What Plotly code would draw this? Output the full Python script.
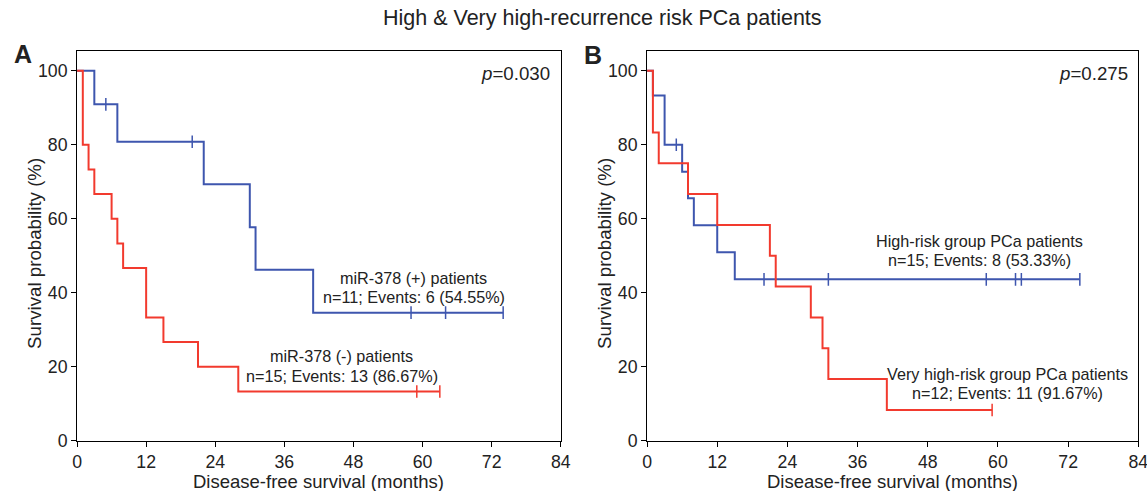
import plotly.graph_objects as go

# ---------------- data ----------------
ticks_x = [0, 12, 24, 36, 48, 60, 72, 84]
ticks_y = [0, 20, 40, 60, 80, 100]

# Panel A: miR-378 (+)
a_pos_t = [0, 3, 7, 22, 30, 31, 41]
a_pos_s = [100, 90.9, 80.8, 69.3, 57.7, 46.2, 34.6]
a_pos_cens = [5, 20, 58, 64, 74]
# Panel A: miR-378 (-)
a_neg_t = [0, 1, 2, 3, 6, 7, 8, 12, 15, 21, 28]
a_neg_s = [100, 80, 73.3, 66.7, 60, 53.3, 46.7, 33.3, 26.7, 20, 13.3]
a_neg_cens = [59, 63]
# Panel B: high-risk
b_high_t = [0, 1, 3, 6, 7, 8, 12, 15]
b_high_s = [100, 93.3, 80, 72.7, 65.5, 58.2, 50.9, 43.6]
b_high_cens = [5, 20, 31, 58, 63, 64, 74]
# Panel B: very high-risk
b_vh_t = [0, 1, 2, 7, 12, 21, 22, 28, 30, 31, 41]
b_vh_s = [100, 83.3, 75, 66.7, 58.3, 50, 41.7, 33.3, 25, 16.7, 8.3]
b_vh_cens = [59]

BLUE = "#3E56AE"
RED = "#F23A2E"
FONT = "Liberation Sans, Arial, sans-serif"

def surv_at(t_list, s_list, t):
    v = s_list[0]
    for tt, ss in zip(t_list, s_list):
        if tt <= t:
            v = ss
    return v

fig = go.Figure()

def add_curve(t, s, cens, color, xa, ya):
    end = max(cens) if cens else t[-1]
    xs = list(t) + [end]
    ys = list(s) + [s[-1]]
    fig.add_trace(go.Scatter(x=xs, y=ys, mode="lines", line=dict(color=color, width=2, shape="hv"),
                             xaxis=xa, yaxis=ya, showlegend=False, hoverinfo="skip"))
    fig.add_trace(go.Scatter(x=cens, y=[surv_at(t, s, c) for c in cens], mode="markers",
                             marker=dict(symbol="line-ns", size=9, line=dict(color=color, width=1.5)),
                             xaxis=xa, yaxis=ya, showlegend=False, hoverinfo="skip"))

add_curve(a_pos_t, a_pos_s, a_pos_cens, BLUE, "x", "y")
add_curve(a_neg_t, a_neg_s, a_neg_cens, RED, "x", "y")
add_curve(b_high_t, b_high_s, b_high_cens, BLUE, "x2", "y2")
add_curve(b_vh_t, b_vh_s, b_vh_cens, RED, "x2", "y2")

# target picture coordinates (reference pixels)
RW, RH = 1147, 491
def px(x): return x / RW
def py(y): return 1 - y / RH

ydom = [py(440.7), py(50.7)]
TICK = 17.7
ax_common = dict(range=[0, 84], tickvals=ticks_x, ticks="outside", ticklen=5, tickwidth=1,
                 tickcolor="black", showline=True, linecolor="black", linewidth=1, mirror=True,
                 showgrid=False, zeroline=False, tickfont=dict(family=FONT, size=TICK, color="#222"))
ay_common = dict(range=[0, 105.4], tickvals=ticks_y, ticks="outside", ticklen=5, tickwidth=1,
                 tickcolor="black", showline=True, linecolor="black", linewidth=1, mirror=True,
                 showgrid=False, zeroline=False, tickfont=dict(family=FONT, size=TICK, color="#222"))

fig.update_layout(
    width=1158, height=501, margin=dict(l=0, r=0, t=0, b=0),
    paper_bgcolor="white", plot_bgcolor="white",
    xaxis=dict(domain=[px(72.3), px(557.7)], anchor="y", **ax_common),
    yaxis=dict(domain=ydom, anchor="x", **ay_common),
    xaxis2=dict(domain=[px(644.3), px(1137.3)], anchor="y2", **ax_common),
    yaxis2=dict(domain=ydom, anchor="x2", **ay_common),
    font=dict(family=FONT, color="#222"),
)

def ann(text, x, y, size=16.2, xanchor="center", bold=False, textangle=0):
    fig.add_annotation(text=("<b>%s</b>" % text) if bold else text, x=px(x), y=py(y),
                       xref="paper", yref="paper", showarrow=False, xanchor=xanchor,
                       yanchor="middle", textangle=textangle,
                       font=dict(family=FONT, size=size, color="#222"))

ann("High &amp; Very high-recurrence risk PCa patients", 600, 18, size=21.5)
ann("A", 18, 54, size=25, bold=True)
ann("B", 590, 55, size=25, bold=True)
ann("<i>p</i>=0.030", 549, 74, size=18.7, xanchor="right")
ann("<i>p</i>=0.275", 1129, 74, size=18.7, xanchor="right")
ann("Disease-free survival (months)", 315, 481.5, size=18.5)
ann("Disease-free survival (months)", 891, 481.5, size=18.5)
ann("Survival probability (%)", 30, 253, size=18.7, textangle=-90)
ann("Survival probability (%)", 602, 253, size=18.7, textangle=-90)
ann("miR-378 (+) patients", 410, 278)
ann("n=11; Events: 6 (54.55%)", 410, 297)
ann("miR-378 (-) patients", 338, 356)
ann("n=15; Events: 13 (86.67%)", 338, 376)
ann("High-risk group PCa patients", 978, 241)
ann("n=15; Events: 8 (53.33%)", 978, 260)
ann("Very high-risk group PCa patients", 1006, 374)
ann("n=12; Events: 11 (91.67%)", 1006, 393)

fig.write_html("out.html", config={"displayModeBar": False},
               post_script="document.body.style.margin='0';document.body.style.overflow='hidden';")
